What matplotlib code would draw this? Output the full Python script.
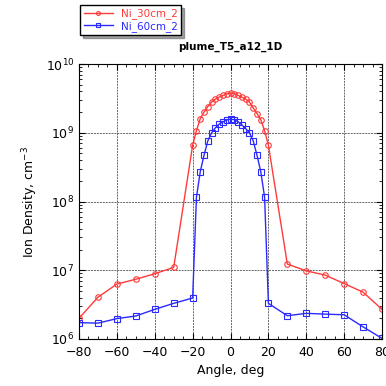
import matplotlib
matplotlib.use("Agg")
import matplotlib.pyplot as plt
from matplotlib.ticker import LogLocator, MultipleLocator, NullFormatter

angles = [-80, -70, -60, -50, -40, -30, -20, -18, -16, -14, -12, -10, -8, -6, -4, -2,
          0, 2, 4, 6, 8, 10, 12, 14, 16, 18, 20, 30, 40, 50, 60, 70, 80]

ni_30cm = [2.0e6, 4.05e6, 6.3e6, 7.4e6, 8.9e6, 1.1e7, 6.6e8, 1.07e9, 1.6e9, 2.0e9,
           2.4e9, 2.8e9, 3.1e9, 3.3e9, 3.5e9, 3.7e9, 3.8e9, 3.7e9, 3.5e9, 3.3e9,
           3.1e9, 2.8e9, 2.3e9, 1.9e9, 1.55e9, 1.07e9, 6.6e8,
           1.23e7, 9.8e6, 8.5e6, 6.4e6, 4.8e6, 2.7e6]

ni_60cm = [1.73e6, 1.7e6, 1.98e6, 2.16e6, 2.7e6, 3.3e6, 3.95e6, 1.15e8, 2.7e8, 4.7e8,
           7.6e8, 1.0e9, 1.18e9, 1.34e9, 1.44e9, 1.54e9, 1.58e9, 1.55e9, 1.45e9, 1.3e9,
           1.15e9, 1.0e9, 7.6e8, 4.7e8, 2.7e8, 1.15e8, 3.3e6,
           2.18e6, 2.36e6, 2.3e6, 2.25e6, 1.5e6, 1.02e6]

red = "#ff3a3a"
blue = "#2a2aff"

fig = plt.figure(figsize=(3.86, 3.86), dpi=100)
ax = fig.add_axes([0.2047, 0.1218, 0.785, 0.7122])

ax.plot(angles, ni_30cm, color=red, lw=1, marker="o", ms=4, mfc="none",
        mew=0.8, label="Ni_30cm_2")
ax.plot(angles, ni_60cm, color=blue, lw=1, marker="s", ms=4, mfc="none",
        mew=0.8, label="Ni_60cm_2")

ax.set_yscale("log")
ax.set_xlim(-80, 80)
ax.set_ylim(1e6, 1e10)
ax.xaxis.set_major_locator(MultipleLocator(20))
ax.xaxis.set_minor_locator(MultipleLocator(5))
ax.yaxis.set_major_locator(LogLocator(base=10, numticks=10))
ax.yaxis.set_minor_locator(LogLocator(base=10, subs=range(2, 10), numticks=10))
ax.yaxis.set_minor_formatter(NullFormatter())

ax.tick_params(which="both", direction="in", top=True, right=True, labelsize=9)
ax.tick_params(which="major", length=4)
ax.tick_params(which="minor", length=2)
ax.tick_params(axis="x", pad=5)
ax.grid(True, which="major", color="#666666", ls=(0, (2, 1)), lw=0.7)

ax.set_xlabel("Angle, deg", fontsize=9)
ax.set_ylabel("Ion Density, cm$^{-3}$", fontsize=9)
ax.set_title("plume_T5_a12_1D", fontsize=7.5, fontweight="bold", pad=10)

leg = fig.legend(loc="upper left", bbox_to_anchor=(0.195, 1.0), fontsize=7.5,
                 fancybox=False, shadow=True, edgecolor="black", framealpha=1,
                 handlelength=2.8, borderpad=0.3, labelspacing=0.15,
                 markerscale=0.7)
leg.get_frame().set_linewidth(1)
for txt, c in zip(leg.get_texts(), [red, blue]):
    txt.set_color(c)

fig.savefig("out.png", dpi=100)
